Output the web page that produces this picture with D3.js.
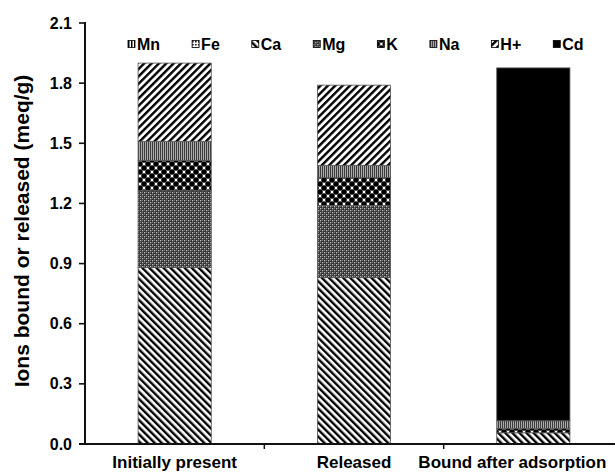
<!DOCTYPE html>
<html lang="en">
<head>
<meta charset="UTF-8">
<title>Ions bound or released</title>
<style>
body { margin: 0; background: #fff; }
svg { font-family: "Liberation Sans", Arial, sans-serif; font-weight: bold; }
.axis text { fill: #000; font-weight: bold; }
</style>
</head>
<body>
<script src="https://cdn.jsdelivr.net/npm/d3@7/dist/d3.min.js"></script>
<script>
var categories = ["Initially present", "Released", "Bound after adsorption"]
var keys = ["Mn", "Fe", "Ca", "Mg", "K", "Na", "H+", "Cd"]

// values (meq/g), one per category
var mn = [0, 0, 0]
var fe = [0, 0, 0]
var ca = [0.88, 0.83, 0.056]
var mg = [0.385, 0.36, 0]
var k  = [0.15, 0.14, 0.022]
var na = [0.095, 0.06, 0.038]
var hp = [0.39, 0.40, 0]
var cd = [0, 0, 1.76]

var yTicks = [0, 0.3, 0.6, 0.9, 1.2, 1.5, 1.8, 2.1]

var series = { "Mn": mn, "Fe": fe, "Ca": ca, "Mg": mg, "K": k, "Na": na, "H+": hp, "Cd": cd }
var rows = categories.map(function (c, i) {
	var r = { cat: c }
	keys.forEach(function (key) { r[key] = series[key][i] })
	return r
})

var W = 615, H = 474
var plotLeft = 85, plotTop = 23, plotBottom = 444

var svg = d3.select("body").append("svg")
	.attr("width", W)
	.attr("height", H)

var x = d3.scaleBand()
	.domain(categories)
	.range([plotLeft, 623])

var y = d3.scaleLinear()
	.domain([0, 2.1])
	.range([plotBottom, plotTop])

// fill patterns
var defs = svg.append("defs")

function stripes(id, angle, size, w) {
	var p = defs.append("pattern").attr("id", id)
		.attr("patternUnits", "userSpaceOnUse")
		.attr("width", size).attr("height", size)
		.attr("patternTransform", "rotate(" + angle + ")")
	p.append("rect").attr("width", size).attr("height", size).attr("fill", "#fff")
	p.append("rect").attr("width", w).attr("height", size).attr("fill", "#000")
}
stripes("pCa", -45, 5, 2.4)
stripes("pH", 45, 5.2, 2.4)
stripes("pMn", 0, 3, 1.5)

var pNa = defs.append("pattern").attr("id", "pNa")
	.attr("patternUnits", "userSpaceOnUse").attr("width", 2).attr("height", 4)
pNa.append("rect").attr("width", 2).attr("height", 4).attr("fill", "#aaa")
pNa.append("rect").attr("width", 1).attr("height", 4).attr("fill", "#3c3c3c")

var pMg = defs.append("pattern").attr("id", "pMg")
	.attr("patternUnits", "userSpaceOnUse").attr("width", 4).attr("height", 4)
pMg.append("rect").attr("width", 4).attr("height", 4).attr("fill", "#333")
pMg.append("rect").attr("x", 0).attr("y", 0).attr("width", 1.3).attr("height", 1.3).attr("fill", "#bbb")
pMg.append("rect").attr("x", 2).attr("y", 2).attr("width", 1.3).attr("height", 1.3).attr("fill", "#bbb")
pMg.append("rect").attr("x", 2).attr("y", 0).attr("width", 1).attr("height", 1).attr("fill", "#777")
pMg.append("rect").attr("x", 0).attr("y", 2).attr("width", 1).attr("height", 1).attr("fill", "#777")

var pFe = defs.append("pattern").attr("id", "pFe")
	.attr("patternUnits", "userSpaceOnUse").attr("width", 3).attr("height", 3)
pFe.append("rect").attr("width", 3).attr("height", 3).attr("fill", "#fff")
pFe.append("rect").attr("width", 1.5).attr("height", 1.5).attr("fill", "#000")

var pK = defs.append("pattern").attr("id", "pK")
	.attr("patternUnits", "userSpaceOnUse").attr("width", 8).attr("height", 8)
pK.append("rect").attr("width", 8).attr("height", 8).attr("fill", "#fff")
;[[0, 0], [8, 0], [0, 8], [8, 8], [4, 4]].forEach(function (c) {
	pK.append("circle").attr("cx", c[0]).attr("cy", c[1]).attr("r", 2.8).attr("fill", "#000")
})

var fills = {
	"Mn": "url(#pMn)", "Fe": "url(#pFe)", "Ca": "url(#pCa)", "Mg": "url(#pMg)",
	"K": "url(#pK)", "Na": "url(#pNa)", "H+": "url(#pH)", "Cd": "#000"
}

var stacked = d3.stack().keys(keys)(rows)

var barW = x.bandwidth() * 0.408

svg.append("g").selectAll("g")
	.data(stacked)
	.enter().append("g")
	.attr("fill", function (s) { return fills[s.key] })
	.selectAll("rect")
	.data(function (s) { return s.filter(function (d) { return d[1] - d[0] > 0 }) })
	.enter().append("rect")
	.attr("x", function (d) { return x(d.data.cat) + (x.bandwidth() - barW) / 2 })
	.attr("width", barW)
	.attr("y", function (d) { return y(d[1]) })
	.attr("height", function (d) { return y(d[0]) - y(d[1]) })
	.attr("stroke", "#555")
	.attr("stroke-width", 0.8)

// y axis labels from d3; axis lines drawn as filled rects
var yAxis = svg.append("g")
	.attr("class", "axis")
	.attr("transform", "translate(" + plotLeft + ",0)")
	.call(d3.axisLeft(y).tickValues(yTicks).tickFormat(d3.format(".1f"))
		.tickSize(6).tickSizeOuter(0).tickPadding(7))
yAxis.select(".domain").remove()
yAxis.selectAll(".tick line").remove()
yAxis.selectAll("text").style("font-size", "16px")

var axisLines = svg.append("g").attr("fill", "#111")
axisLines.append("rect")
	.attr("x", plotLeft - 1).attr("width", 2)
	.attr("y", y(2.1) - 1).attr("height", y(0) - y(2.1) + 2)
axisLines.selectAll(".ytick")
	.data(yTicks)
	.enter().append("rect")
	.attr("class", "ytick")
	.attr("x", plotLeft - 6).attr("width", 6)
	.attr("y", function (d) { return y(d) - 0.8 }).attr("height", 1.6)

// x axis: labels, then ticks between categories
var xAxis = svg.append("g")
	.attr("class", "axis")
	.attr("transform", "translate(0," + plotBottom + ")")
	.call(d3.axisBottom(x).tickSize(0).tickSizeOuter(0).tickPadding(12))
xAxis.select(".domain").remove()
xAxis.selectAll("text").style("font-size", "17px")
	.attr("dx", function (d, i) { return i === 2 ? -21 : 0 })

axisLines.append("rect")
	.attr("x", plotLeft - 6).attr("width", W - plotLeft + 6)
	.attr("y", y(0) - 1).attr("height", 2)
axisLines.selectAll(".sep")
	.data(categories.slice(1))
	.enter().append("rect")
	.attr("class", "sep")
	.attr("x", function (d) { return x(d) - 0.75 }).attr("width", 1.5)
	.attr("y", y(0)).attr("height", 5)

// axis title
svg.append("text")
	.attr("transform", "translate(29,231) rotate(-90)")
	.attr("text-anchor", "middle")
	.style("font-size", "21px")
	.text("Ions bound or released (meq/g)")

// legend
var lg = svg.append("g").attr("transform", "translate(0,44)")
var lx = 128
keys.forEach(function (key) {
	var item = lg.append("g").attr("transform", "translate(" + lx + ",0)")
	item.append("rect")
		.attr("x", 0).attr("y", -3.5).attr("width", 7).attr("height", 7)
		.attr("fill", fills[key]).attr("stroke", "#000").attr("stroke-width", 0.8)
	var t = item.append("text")
		.attr("x", 9).attr("y", 5.5)
		.style("font-size", "16px")
		.text(key)
	lx += 9 + t.node().getComputedTextLength() + 32
})
</script>
</body>
</html>
